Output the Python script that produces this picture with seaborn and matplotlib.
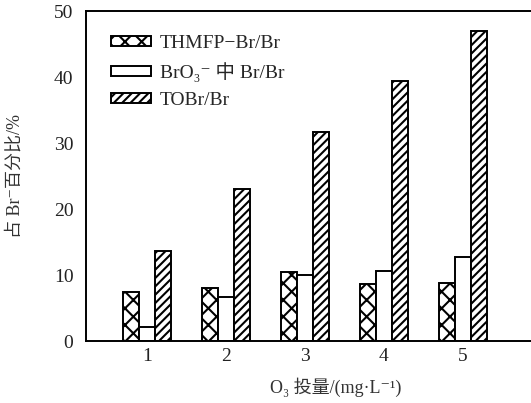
import matplotlib
matplotlib.use("Agg")
import matplotlib.pyplot as plt
import seaborn as sns
import pandas as pd
from matplotlib.patches import Patch

doses = ["1", "2", "3", "4", "5"]
series = ["THMFP\u2212Br/Br", "BrO\u2083\u207b 中 Br/Br", "TOBr/Br"]
thmfp = [7.5, 8.1, 10.4, 8.7, 8.8]
bro3 = [2.1, 6.7, 10.0, 10.6, 12.7]
tobr = [13.6, 23.1, 31.6, 39.4, 47.0]
hatches = ["xx", "", "////"]

sns.set_theme(style="white")
fam = ['Liberation Serif', 'Noto Sans CJK SC', 'DejaVu Sans']
plt.rcParams['font.family'] = fam
plt.rcParams['hatch.linewidth'] = 1.5

df = pd.DataFrame({
    "dose": doses * 3,
    "series": [series[0]] * 5 + [series[1]] * 5 + [series[2]] * 5,
    "value": thmfp + bro3 + tobr,
})

fig = plt.figure(figsize=(5.31, 4.03), dpi=100)
ax = fig.add_axes([86/531, 62/403, (545-86)/531, 330/403])
sns.barplot(data=df, x="dose", y="value", hue="series", order=doses,
            hue_order=series, palette=["white"] * 3, width=0.6, gap=0,
            edgecolor="black", linewidth=1.4, ax=ax, legend=False)

for cont, h in zip(ax.containers, hatches):
    for bar in cont:
        bar.set_hatch(h)
        bar.set_edgecolor("black")
        bar.set_facecolor("white")

ax.set_ylim(0, 50)
ax.set_yticks([0, 10, 20, 30, 40, 50])
ax.set_xlim(-0.772, 4 + 82/79)
for s in ax.spines.values():
    s.set_visible(True)
    s.set_color("black")
    s.set_linewidth(1.4)
ax.tick_params(axis="y", length=0, labelsize=14, colors="#222222", pad=9)
ax.tick_params(axis="x", length=0, labelsize=14, colors="#222222", pad=5)
ax.set_xlabel("")
ax.set_ylabel("")

fig.text(336/531, 1 - 387/403, "O\u2083 投量/(mg·L\u207b\u00b9)", ha="center", va="center",
         fontsize=13, color="#333333")
fig.text(15/531, 1 - 176/403, "占 Br\u207b百分比/%", ha="center", va="center",
         rotation=90, fontsize=13, color="#333333")

handles = [Patch(facecolor="white", edgecolor="black", hatch=h, linewidth=1.4) for h in hatches]
ax.legend(handles, series, loc="upper left", bbox_to_anchor=(25/459, 1 - 24/330),
          frameon=False, fontsize=14, handlelength=2.05, handleheight=0.45,
          handletextpad=0.45, labelspacing=0.52, borderaxespad=0, borderpad=0)

fig.savefig("out.png", dpi=100)
